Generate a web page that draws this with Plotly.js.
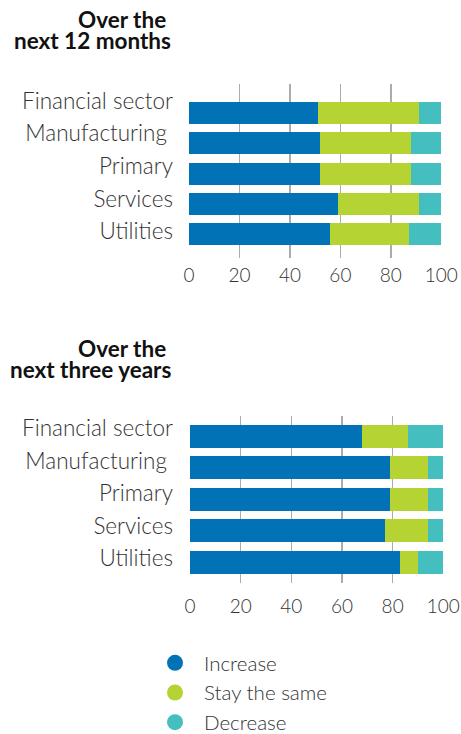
<!DOCTYPE html>
<html>
<head>
<meta charset="utf-8">
<script src="https://cdn.plot.ly/plotly-3.0.1.min.js"></script>
<style>
  html, body { margin: 0; padding: 0; background: #fff; }
  #chart { width: 461px; height: 734px; }
</style>
</head>
<body>
<div id="chart"></div>
<script>
// ---- Data ----
const categories = ["Financial sector", "Manufacturing", "Primary", "Services", "Utilities"];
const categoryLabels = ["Financial sector", "Manufacturing\u00a0", "Primary", "Services", "Utilities"];
const seriesNames = ["Increase", "Stay the same", "Decrease"];

// Over the next 12 months (%)
const months12Increase = [51, 52, 52, 59, 56];
const months12Same     = [40, 36, 36, 32, 31];
const months12Decrease = [9, 12, 12, 9, 13];

// Over the next three years (%)
const years3Increase = [68, 79, 79, 77, 83];
const years3Same     = [18, 15, 15, 17, 7];
const years3Decrease = [14, 6, 6, 6, 10];

const xTickVals = [0, 20, 40, 60, 80, 100];
const xTickText = ["0", "20", "40", "60", "80", "100"];

const panelTitles = [["Over the", "next 12 months"], ["Over the", "next three years"]];

// ---- Styles ----
const colors = ["#0272b6", "#b6d334", "#45bebf"];
const W = 461, H = 734;
const py = v => 1 - v / H;
const pxX = v => v / W;

const traces = [];
const panels = [
  { data: [months12Increase, months12Same, months12Decrease], xa: "x", ya: "y", la: "y3" },
  { data: [years3Increase, years3Same, years3Decrease], xa: "x2", ya: "y2", la: "y4" }
];
panels.forEach(p => {
  p.data.forEach((vals, i) => {
    traces.push({
      type: "bar", orientation: "h",
      x: vals, y: categories,
      xaxis: p.xa, yaxis: p.ya,
      name: seriesNames[i],
      marker: { color: colors[i], line: { width: 0 } },
      showlegend: false, hoverinfo: "x+y+name"
    });
  });
  // empty helper trace so the category-label axis is drawn
  traces.push({ type: "scatter", mode: "markers", x: [null], y: [null],
    xaxis: p.xa, yaxis: p.la, showlegend: false, hoverinfo: "skip" });
});
// legend entries (circle symbols)
seriesNames.forEach((n, i) => {
  traces.push({
    type: "scatter", mode: "markers", x: [null], y: [null],
    xaxis: "x2", yaxis: "y2", name: n,
    marker: { color: colors[i], size: 16, symbol: "circle" },
    showlegend: true, legendgroup: "g" + i
  });
});

const fam = "Lato, 'Open Sans', sans-serif";
const catFont = { family: fam, size: 22.5, color: "#333", weight: 300 };
const numFont = { family: fam, size: 19, color: "#333", weight: 300 };

function xAxis(domain, anchor, standoff) {
  return {
    domain: domain, anchor: anchor, range: [0, 100],
    tickmode: "array", tickvals: xTickVals, ticktext: xTickText,
    showgrid: true, gridcolor: "#ababab", gridwidth: 1.5,
    zeroline: false, showline: false, ticks: "",
    tickfont: numFont, ticklabelstandoff: standoff, fixedrange: true
  };
}
function yAxis(domain, anchor, range) {
  return {
    domain: domain, anchor: anchor, type: "category",
    categoryorder: "array", categoryarray: categories,
    range: range, showticklabels: false,
    showgrid: false, zeroline: false, showline: false, ticks: "", fixedrange: true
  };
}
function labelAxis(overlay, anchor, range, standoff) {
  return {
    overlaying: overlay, anchor: anchor, side: "left", type: "linear",
    range: range, tickmode: "array", tickvals: categories.map((c, i) => i), ticktext: categoryLabels,
    showgrid: false, zeroline: false, showline: false, ticks: "",
    tickfont: catFont, ticklabelstandoff: standoff, fixedrange: true
  };
}

const titleFont = { family: fam, size: 22.5, color: "#111", weight: 700 };
const annotations = [];
const titleRows = [[19.6, 40.6], [348.6, 369.6]];
const titleRight = [168, 173];
panelTitles.forEach((t, k) => {
  t.forEach((line, j) => {
    annotations.push({
      xref: "paper", yref: "paper", x: pxX(titleRight[j]), y: py(titleRows[k][j]),
      xanchor: "right", yanchor: "middle", showarrow: false,
      text: line, font: titleFont
    });
  });
});

const layout = {
  width: W, height: H,
  margin: { l: 0, r: 0, t: 0, b: 0, autoexpand: false },
  paper_bgcolor: "#fff", plot_bgcolor: "#fff",
  barmode: "stack", bargap: 0.27,
  xaxis: xAxis([pxX(189), pxX(441.3)], "y", 4),
  yaxis: yAxis([py(258), py(84)], "x", [4.8, -0.967]),
  yaxis3: labelAxis("y", "x", [4.816, -0.5215], 15),
  xaxis2: xAxis([pxX(190), pxX(443.3)], "y2", 10),
  yaxis2: yAxis([py(583), py(416)], "x2", [4.657, -0.644]),
  yaxis4: labelAxis("y2", "x2", [4.763, -0.3754], 16),
  showlegend: true,
  legend: {
    x: pxX(146), xanchor: "left", y: py(643), yanchor: "top",
    font: { family: fam, size: 20.5, color: "#333", weight: 300 },
    traceorder: "grouped", tracegroupgap: 0, itemsizing: "trace", itemwidth: 48,
    bgcolor: "rgba(0,0,0,0)"
  },
  annotations: annotations
};

Plotly.newPlot("chart", traces, layout, { displayModeBar: false, staticPlot: true });
</script>
</body>
</html>
